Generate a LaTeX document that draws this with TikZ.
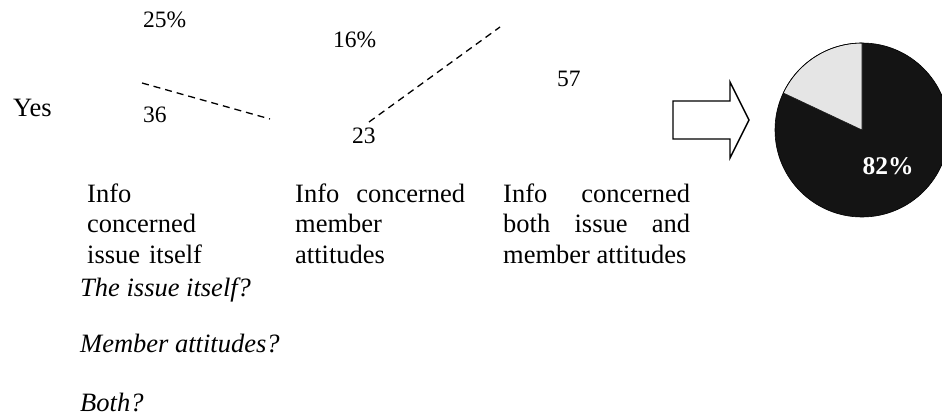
\documentclass[tikz,border=0pt]{standalone}
\usepackage{fontspec}
\setmainfont{Liberation Serif}
\usepackage{xcolor}
\usetikzlibrary{positioning}

\tikzset{
  numtext/.style={inner sep=0pt, anchor=base west, font=\fontsize{23.5}{27}\selectfont},
  bodytext/.style={inner sep=0pt, anchor=base west, font=\fontsize{26.5}{30.5}\selectfont},
  coltext/.style={bodytext, align=justify},
  asktext/.style={bodytext, font=\fontsize{26.5}{30.5}\selectfont\itshape},
  trend/.style={line width=1.3pt, dash pattern=on 7pt off 5pt},
}

\begin{document}
\begin{tikzpicture}[x=1pt, y=-1pt]
          \useasboundingbox (0,0) rectangle (942,417);

          \node[bodytext] (yes) at (13,117) {Yes};
          \node[numtext] (p25) at (143,28) {25\%};
          \node[numtext] (p16) at (333,48) {16\%};
          \node[numtext] (n36) at (143,123) {36};
          \node[numtext] (n23) at (352,143) {23};
          \node[numtext] (n57) at (557,87) {57};

          \coordinate (t1a) at (142,83);
          \coordinate (t1b) at (270,119);
          \coordinate (t2a) at (369,122);
          \coordinate (t2b) at (500,27);
          \draw[trend] (t1a) -- (t1b);
          \draw[trend] (t2a) -- (t2b);

          \node[bodytext, align=left, text width=150pt] (issue) at (87,202) {Info\\concerned\\issue itself};
          \node[coltext, text width=170pt] (member) at (295,202) {Info\hfill concerned\\member\\attitudes};
          \node[coltext, text width=187pt] (both) at (503,202) {Info\hfill concerned\\both\hfill issue\hfill and\\member attitudes};

          \node[asktext] (ask1) at (80,296) {The issue itself?};
          \node[asktext] (ask2) at (80,352) {Member attitudes?};
          \node[asktext] (ask3) at (80,411) {Both?};

          % block arrow
          \draw[line width=1.4pt, fill=white] (673,101) -- (730,101) -- (730,82) -- (749,120)
            -- (730,158) -- (730,139) -- (673,139) -- cycle;

          % pie
          \begin{scope}[shift={(862,130)}, y=1pt]
            \fill[black!92] (0,0) circle (87);
            \filldraw[fill=black!10, draw=black!92, line width=0.6pt] (0,0) -- (90:87) arc (90:154.8:87) -- cycle;
            \draw[line width=0.6pt] (0,0) circle (87);
          \end{scope}
          \node[inner sep=0pt, anchor=base, text=white, font=\fontsize{25.5}{29}\selectfont\bfseries] (share) at (888,174) {82\%};
        \end{tikzpicture}
\end{document}
